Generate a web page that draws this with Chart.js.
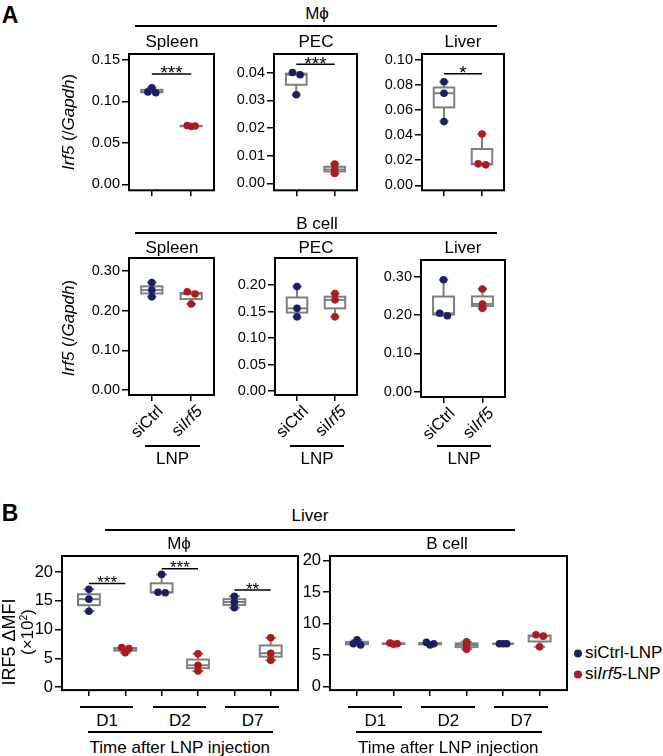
<!DOCTYPE html>
<html>
<head>
<meta charset="utf-8">
<script src="https://cdn.jsdelivr.net/npm/chart.js@4.4.1/dist/chart.umd.min.js"></script>
<style>
  body { margin: 0; background: #fff; }
  #fig { position: relative; width: 663px; height: 756px; overflow: hidden;
         font-family: 'Liberation Sans', Arial, sans-serif; color: #000; background: #fff; }
  #fig canvas { position: absolute; }
  .t { position: absolute; white-space: nowrap; line-height: 1; transform: translate(-50%, -50%); }
  .hl { position: absolute; height: 2px; background: #000; }
  .dot { display: inline-block; width: 8px; height: 8px; border-radius: 50%; }
  sup { font-size: 0.62em; line-height: 0; vertical-align: 0.55em; }
</style>
</head>
<body>
<div id="fig"></div>
<script>
// ---- data ----
// A, macrophages, Irf5/Gapdh
const macSpleenCtrl = [0.1165, 0.1115, 0.1105]
const macSpleenSi = [0.0710, 0.0703, 0.0698]
const macPecCtrl = [0.0400, 0.0392, 0.0320]
const macPecSi = [0.0070, 0.0050, 0.0036]
const macLiverCtrl = [0.0826, 0.0734, 0.0508]
const macLiverSi = [0.0408, 0.0171, 0.0163]
// A, B cells
const bSpleenCtrl = [0.271, 0.252, 0.235]
const bSpleenSi = [0.248, 0.242, 0.217]
const bPecCtrl = [0.197, 0.156, 0.140]
const bPecSi = [0.184, 0.172, 0.140]
const bLiverCtrl = [0.292, 0.2045, 0.198]
const bLiverSi = [0.268, 0.229, 0.218]
// B, liver IRF5 dMFI (x10^2), per day
const days = ['D1', 'D2', 'D7']
const macCtrlByDay = [[17.0, 15.3, 13.2], [19.6, 16.5, 16.4], [15.8, 14.8, 13.8]]
const macSiByDay = [[6.9, 6.7, 6.0], [5.8, 3.8, 2.8], [8.6, 5.9, 4.7]]
const bCtrlByDay = [[7.4, 6.8, 6.6], [7.0, 6.8, 6.6], [6.8, 6.8, 6.8]]
const bSiByDay = [[6.9, 6.8, 6.7], [7.1, 6.6, 5.9], [8.2, 8.0, 6.3]]

// x labels of panel A: plain / italic pieces
const lnpGroups = [[{ t: 'siCtrl' }], [{ t: 'si' }, { t: 'Irf5', it: true }]]

const yTicksMacSpleen = [0, 0.05, 0.10, 0.15]
const yTicksMacPec = [0, 0.01, 0.02, 0.03, 0.04]
const yTicksMacLiver = [0, 0.02, 0.04, 0.06, 0.08, 0.10]
const yTicksBSpleen = [0, 0.10, 0.20, 0.30]
const yTicksBPec = [0, 0.05, 0.10, 0.15, 0.20]
const yTicksBLiver = [0, 0.10, 0.20, 0.30]
const yTicksMfi = [0, 5, 10, 15, 20]

const NAVY = '#1c2060'
const RED = '#ab1c21'
const GREY = '#7f7f7f'
const FONT = "'Liberation Sans', Arial, sans-serif"

const fig = document.getElementById('fig')

function quart(vals) {
  const s = [...vals].sort((a, b) => a - b)
  const q = p => {
    const h = (s.length - 1) * p
    const lo = Math.floor(h)
    const hi = Math.min(lo + 1, s.length - 1)
    return s[lo] + (h - lo) * (s[hi] - s[lo])
  }
  return { min: s[0], q1: q(0.25), med: q(0.5), q3: q(0.75), max: s[s.length - 1] }
}

// small sideways spread for dots that sit on top of each other
function spread(vals, tol) {
  return vals.map((v, i) => {
    const close = vals.filter((w, j) => j !== i && Math.abs(w - v) < tol)
    if (!close.length) return 0
    const k = vals.filter((w, j) => j < i && Math.abs(w - v) < tol).length
    return [-0.1, 0.1, 0][k]
  })
}

function boxPlugin(groups, sig, o) {
  return {
    id: 'boxes',
    beforeDatasetsDraw(chart) {
      const { ctx } = chart
      const x = chart.scales.x, y = chart.scales.y
      const py = v => y.getPixelForValue(v)
      ctx.save()
      ctx.strokeStyle = GREY
      ctx.lineWidth = 2
      groups.forEach(g => {
        const q = quart(g.vals)
        const cx = x.getPixelForValue(g.x)
        const hw = x.getPixelForValue(g.x + o.hw) - cx
        const cw = x.getPixelForValue(g.x + o.cw) - cx
        ctx.beginPath()
        ctx.moveTo(cx, py(q.max)); ctx.lineTo(cx, py(q.q3))
        ctx.moveTo(cx, py(q.min)); ctx.lineTo(cx, py(q.q1))
        ctx.moveTo(cx - cw, py(q.max)); ctx.lineTo(cx + cw, py(q.max))
        ctx.moveTo(cx - cw, py(q.min)); ctx.lineTo(cx + cw, py(q.min))
        ctx.stroke()
        const top = py(q.q3), bot = py(q.q1)
        ctx.fillStyle = '#fff'
        ctx.fillRect(cx - hw, top, 2 * hw, bot - top)
        ctx.strokeRect(cx - hw, top, 2 * hw, bot - top)
        ctx.beginPath()
        ctx.moveTo(cx - hw, py(q.med)); ctx.lineTo(cx + hw, py(q.med))
        ctx.stroke()
      })
      ctx.strokeStyle = '#000'
      ctx.fillStyle = '#000'
      ctx.lineWidth = 1.5
      ctx.font = o.sigSize + 'px ' + FONT
      ctx.textAlign = 'center'
      ctx.textBaseline = 'alphabetic'
      sig.forEach(s => {
        const x1 = x.getPixelForValue(s.from), x2 = x.getPixelForValue(s.to)
        const yy = py(s.y)
        ctx.beginPath()
        ctx.moveTo(x1, yy); ctx.lineTo(x2, yy)
        ctx.stroke()
        ctx.fillText(s.label, (x1 + x2) / 2, yy + o.sigSize * 0.28)
      })
      ctx.restore()
    },
    afterDraw(chart) {
      const a = chart.chartArea
      const ctx = chart.ctx
      ctx.save()
      ctx.strokeStyle = '#000'
      ctx.lineWidth = 2
      ctx.strokeRect(a.left, a.top, a.right - a.left, a.bottom - a.top)
      // slanted group names under the ticks (top-right end at the tick)
      if (o.xlabels) {
        ctx.fillStyle = '#000'
        ctx.textBaseline = 'top'
        ctx.textAlign = 'left'
        o.xlabels.forEach((parts, i) => {
          const tx = chart.scales.x.getPixelForValue(i + 1)
          const fonts = parts.map(p => (p.it ? 'italic ' : '') + '16.5px ' + FONT)
          const widths = parts.map((p, k) => { ctx.font = fonts[k]; return ctx.measureText(p.t).width })
          const total = widths.reduce((s, w) => s + w, 0)
          ctx.save()
          ctx.translate(tx + 3, a.bottom + 8)
          ctx.rotate(-Math.PI / 4)
          let cx = -total
          parts.forEach((p, k) => {
            ctx.font = fonts[k]
            ctx.fillText(p.t, cx, 0)
            cx += widths[k]
          })
          ctx.restore()
        })
      }
      ctx.restore()
    }
  }
}

function panel(o) {
  const [L, T, R, B] = o.box
  const YW = o.yw, PT = 12, PR = 4, XH = 10
  const PB = o.xlabels ? 48 : 0
  const cv = document.createElement('canvas')
  cv.width = YW + R - L + PR
  cv.height = PT + B - T + XH + PB
  cv.style.left = (L - YW) + 'px'
  cv.style.top = (T - PT) + 'px'
  fig.appendChild(cv)

  const tol = (o.ymax - o.ymin) * 0.02
  const groups = []
  const datasets = []
  o.series.forEach((vals, i) => {
    const xv = i + 1
    const jit = spread(vals, tol)
    groups.push({ x: xv, vals: vals })
    datasets.push({
      data: vals.map((v, k) => ({ x: xv + jit[k], y: v })),
      backgroundColor: i % 2 ? RED : NAVY,
      borderWidth: 0,
      pointRadius: 3.8,
      pointHoverRadius: 3.8
    })
  })

  const chart = new Chart(cv, {
    type: 'scatter',
    data: { datasets: datasets },
    options: {
      responsive: false,
      animation: false,
      events: [],
      layout: { padding: { top: PT, right: PR, left: 0, bottom: PB } },
      plugins: { legend: { display: false }, tooltip: { enabled: false } },
      scales: {
        x: {
          type: 'linear', min: o.xmin, max: o.xmax,
          afterBuildTicks: s => { s.ticks = groups.map(g => ({ value: g.x })) },
          afterFit: s => { s.height = XH },
          ticks: { display: false },
          grid: { drawOnChartArea: false, tickLength: 6, color: '#000', lineWidth: 1.5 },
          border: { display: false }
        },
        y: {
          type: 'linear', min: o.ymin, max: o.ymax,
          afterBuildTicks: s => { s.ticks = o.yticks.map(v => ({ value: v })) },
          afterFit: s => { s.width = YW },
          ticks: {
            color: '#000', padding: 2,
            font: { family: FONT, size: o.tickSize },
            callback: v => v.toFixed(o.dec)
          },
          grid: { drawOnChartArea: false, tickLength: 7, color: '#000', lineWidth: 1.5 },
          border: { display: false }
        }
      }
    },
    plugins: [boxPlugin(groups, o.sig || [], o)]
  })
  chart.ox = L - YW
  chart.oy = T - PT
  chart.px = v => chart.ox + chart.scales.x.getPixelForValue(v)
  return chart
}

function txt(html, x, y, size, extra) {
  const d = document.createElement('div')
  d.className = 't'
  d.innerHTML = html
  d.style.left = x + 'px'
  d.style.top = y + 'px'
  d.style.fontSize = size + 'px'
  if (extra) Object.assign(d.style, extra)
  fig.appendChild(d)
  return d
}

function hline(x1, x2, y) {
  const d = document.createElement('div')
  d.className = 'hl'
  d.style.left = x1 + 'px'
  d.style.width = (x2 - x1) + 'px'
  d.style.top = (y - 1) + 'px'
  fig.appendChild(d)
}

const ROT = { transform: 'translate(-50%, -50%) rotate(-90deg)' }
const aX = { xmin: 0.42, xmax: 2.58, hw: 0.27, cw: 0.12, yw: 60, tickSize: 14.5, dec: 2, sigSize: 19 }

// ---- panel A, top row (macrophages) ----
panel(Object.assign({}, aX, {
  box: [129, 54, 214, 191], ymin: -0.0072, ymax: 0.1572, yticks: yTicksMacSpleen,
  series: [macSpleenCtrl, macSpleenSi], sig: [{ from: 1, to: 2, y: 0.133, label: '***' }]
}))
panel(Object.assign({}, aX, {
  box: [274, 54, 357, 191], ymin: -0.0025, ymax: 0.0467, yticks: yTicksMacPec,
  series: [macPecCtrl, macPecSi], sig: [{ from: 1, to: 2, y: 0.043, label: '***' }]
}))
panel(Object.assign({}, aX, {
  box: [422, 54, 504, 191], ymin: -0.004, ymax: 0.1047, yticks: yTicksMacLiver,
  series: [macLiverCtrl, macLiverSi], sig: [{ from: 1, to: 2, y: 0.089, label: '*' }]
}))

// ---- panel A, bottom row (B cells) ----
const bRow = [
  panel(Object.assign({}, aX, {
    box: [129, 258, 214, 395], ymin: -0.0126, ymax: 0.333, yticks: yTicksBSpleen,
    series: [bSpleenCtrl, bSpleenSi], xlabels: lnpGroups
  })),
  panel(Object.assign({}, aX, {
    box: [275, 258, 357, 395], ymin: -0.0075, ymax: 0.251, yticks: yTicksBPec,
    series: [bPecCtrl, bPecSi], xlabels: lnpGroups
  })),
  panel(Object.assign({}, aX, {
    box: [421, 260, 505, 397], ymin: -0.0138, ymax: 0.3436, yticks: yTicksBLiver,
    series: [bLiverCtrl, bLiverSi], xlabels: lnpGroups
  }))
]

// ---- panel B ----
const bX = { xmin: 0.26, xmax: 6.75, hw: 0.3, cw: 0.15, tickSize: 16.5, dec: 0, sigSize: 17 }
const macSeries = [], bSeries = []
days.forEach((d, i) => {
  macSeries.push(macCtrlByDay[i], macSiByDay[i])
  bSeries.push(bCtrlByDay[i], bSiByDay[i])
})
const liverRow = [
  panel(Object.assign({}, bX, {
    box: [62, 556, 298, 692], yw: 60, ymin: -0.51, ymax: 22.8, yticks: yTicksMfi,
    series: macSeries,
    sig: [
      { from: 1, to: 2, y: 18.0, label: '***' },
      { from: 3, to: 4, y: 20.6, label: '***' },
      { from: 5, to: 6, y: 16.9, label: '**' }
    ]
  })),
  panel(Object.assign({}, bX, {
    box: [330, 556, 567, 692], yw: 30, ymin: -0.58, ymax: 20.74, yticks: yTicksMfi,
    series: bSeries
  }))
]

// ---- text and rules, panel A ----
txt('<b>A</b>', 10, 15, 23)
txt('M\u03d5', 317, 13, 17)
hline(135, 497, 26)
txt('Spleen', 172, 41, 17)
txt('PEC', 316, 41, 17)
txt('Liver', 463, 41, 17)
txt('B cell', 317, 223, 17)
hline(135, 497, 233)
txt('Spleen', 172, 247, 17)
txt('PEC', 316, 247, 17)
txt('Liver', 463, 247, 17)
txt('<i>Irf5</i> (/<i>Gapdh</i>)', 68, 122, 17, ROT)
txt('<i>Irf5</i> (/<i>Gapdh</i>)', 68, 328, 17, ROT)

bRow.forEach(c => {
  const a = c.px(1), b = c.px(2)
  hline(a - 7, b + 9, 446)
  txt('LNP', (a + b) / 2 + 1, 458, 17)
})

// ---- text and rules, panel B ----
txt('<b>B</b>', 10, 513, 23)
txt('Liver', 310, 515, 17)
hline(105, 515, 530)
txt('M\u03d5', 179, 543, 17)
txt('B cell', 447, 543, 17)
txt('IRF5 \u0394MFI', 9, 642, 18, ROT)
txt('(\u00d710<sup>2</sup>)', 27, 632, 17, ROT)

liverRow.forEach(c => {
  days.forEach((d, i) => {
    const a = c.px(2 * i + 1), b = c.px(2 * i + 2)
    hline(a - 9, b + 8, 707)
    txt(d, (a + b) / 2, 720, 17)
  })
  const first = c.px(1), last = c.px(6)
  hline(first - 1, last + 2, 732)
  txt('Time after LNP injection', (first + last) / 2, 747, 17)
})

// legend
txt('<span class="dot" style="background:' + NAVY + '"></span>', 578, 652, 17)
txt('siCtrl-LNP', 585, 652, 17, { transform: 'translate(0, -50%)' })
txt('<span class="dot" style="background:' + RED + '"></span>', 578, 673, 17)
txt('si<i>Irf5</i>-LNP', 585, 673, 17, { transform: 'translate(0, -50%)' })
</script>
</body>
</html>
